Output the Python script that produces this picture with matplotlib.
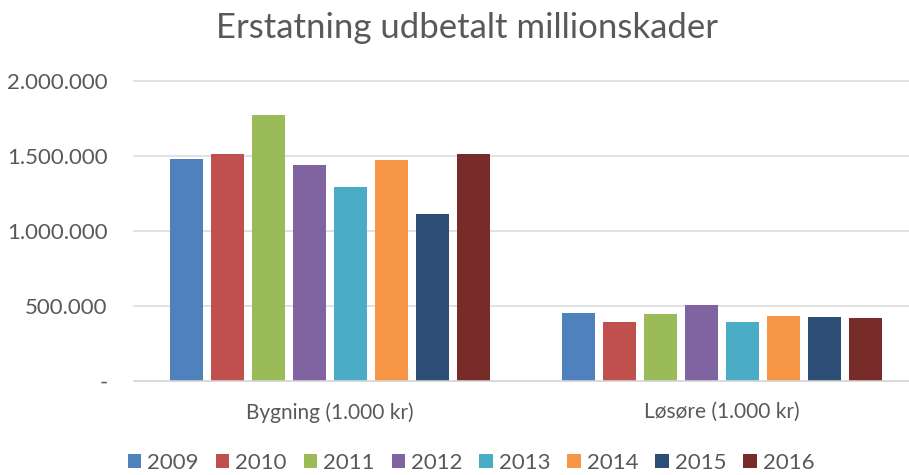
import matplotlib.pyplot as plt
import numpy as np
from matplotlib.ticker import FuncFormatter

plt.rcParams['font.family'] = ['Lato', 'DejaVu Sans']

categories = ["Bygning (1.000 kr)", "Løsøre (1.000 kr)"]
years = ["2009", "2010", "2011", "2012", "2013", "2014", "2015", "2016"]
bygning = [1480000, 1513000, 1776000, 1438000, 1291000, 1475000, 1111000, 1513000]
losore = [454000, 394000, 443000, 505000, 392000, 430000, 425000, 416000]
colors = ["#4F81BD", "#C0504D", "#9BBB59", "#8064A2",
          "#4BACC6", "#F79646", "#2C4D75", "#772C2A"]

text_color = "#595959"
grid_color = "#D9D9D9"


def thousands(v, pos):
    if v == 0:
        return "-"
    return f"{int(v):,}".replace(",", ".")


fig = plt.figure(figsize=(9.09, 4.75), dpi=100)
ax = fig.add_axes([134 / 909, 1 - 380.7 / 475, 1 - 134 / 909, (380.7 - 81.3) / 475])

x = np.arange(len(categories))
pitch = 41 / 392
width = 32.3 / 392
for i, year in enumerate(years):
    offs = (i - (len(years) - 1) / 2) * pitch
    ax.bar(x + offs, [bygning[i], losore[i]], width, color=colors[i],
           label=year, zorder=3)

ax.set_xlim(-0.5, 1.477)
ax.set_ylim(0, 2000000)
ax.set_yticks([0, 500000, 1000000, 1500000, 2000000])
ax.yaxis.set_major_formatter(FuncFormatter(thousands))
ax.set_xticks(x)
ax.set_xticklabels(categories)

ax.grid(axis="y", color=grid_color, linewidth=1.1, zorder=0)
for ln in ax.get_ygridlines():
    ln.set_clip_on(False)
for s in ["top", "right", "left", "bottom"]:
    ax.spines[s].set_visible(False)
ax.axhline(0, color=grid_color, linewidth=1.1, zorder=4, clip_on=False)

ax.tick_params(axis="both", length=0, labelcolor=text_color)
ax.tick_params(axis="y", pad=19, labelsize=16)
ax.tick_params(axis="x", pad=15.5, labelsize=15)

fig.text(467 / 909, 1 - 28 / 475, "Erstatning udbetalt millionskader",
         ha="center", va="center", fontsize=25, color=text_color)

leg = fig.legend(loc="center", bbox_to_anchor=(471 / 909, 1 - 463 / 475),
                 ncol=8, frameon=False, fontsize=16, handlelength=0.6,
                 handleheight=0.6, handletextpad=0.27, columnspacing=0.77,
                 borderpad=0)
for t in leg.get_texts():
    t.set_color(text_color)

fig.savefig("out.png", dpi=100)
